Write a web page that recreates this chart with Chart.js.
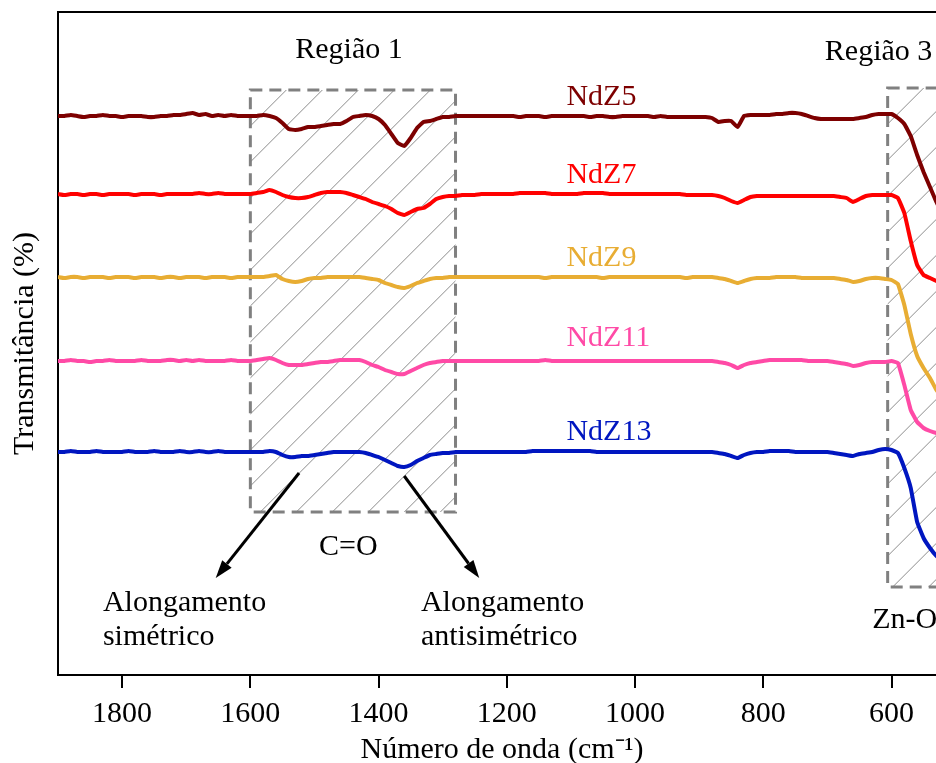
<!DOCTYPE html>
<html>
<head>
<meta charset="utf-8">
<script src="https://cdn.jsdelivr.net/npm/chart.js@4.4.1/dist/chart.umd.min.js"></script>
<style>
  html, body { margin: 0; padding: 0; background: #fff; overflow: hidden; }
  #wrap { width: 960px; height: 763px; }
</style>
</head>
<body>
<div id="wrap"><canvas id="ftirChart" width="960" height="763" style="width:960px;height:763px"></canvas></div>
<script>
// wavenumber (cm-1), shared by all spectra
const wavenumbers = [
  1900, 1890, 1880, 1870, 1860, 1850, 1840, 1830, 1820, 1810,
  1800, 1790, 1780, 1770, 1760, 1750, 1740, 1730, 1720, 1710,
  1700, 1690, 1680, 1670, 1660, 1650, 1640, 1630, 1620, 1610,
  1600, 1590, 1580, 1570, 1560, 1550, 1540, 1530, 1520, 1510,
  1500, 1490, 1480, 1470, 1460, 1450, 1440, 1430, 1420, 1410,
  1400, 1390, 1380, 1370, 1360, 1350, 1340, 1330, 1320, 1310,
  1300, 1290, 1280, 1270, 1260, 1250, 1240, 1230, 1220, 1210,
  1200, 1190, 1180, 1170, 1160, 1150, 1140, 1130, 1120, 1110,
  1100, 1090, 1080, 1070, 1060, 1050, 1040, 1030, 1020, 1010,
  1000, 990, 980, 970, 960, 950, 940, 930, 920, 910,
  900, 890, 880, 870, 860, 850, 840, 830, 820, 810,
  800, 790, 780, 770, 760, 750, 740, 730, 720, 710,
  700, 690, 680, 670, 660, 650, 640, 630, 620, 610,
  600, 590, 580, 570, 560, 550, 540, 530, 520
];

// transmittance, spectra stacked with offsets
const ndz5 = [
  55.9, 55.9, 56.0, 55.9, 55.8, 55.9, 55.9, 56.0, 55.9, 55.9,
  55.8, 55.9, 55.9, 55.9, 55.8, 55.8, 55.9, 55.9, 56.0, 56.0,
  56.1, 56.2, 56.0, 56.1, 55.9, 56.0, 55.9, 56.0, 55.9, 55.9,
  55.9, 55.9, 56.0, 55.9, 55.7, 55.2, 54.6, 54.5, 54.6, 54.8,
  54.8, 54.9, 55.0, 55.1, 55.1, 55.4, 55.8, 55.9, 56.0, 55.9,
  55.6, 55.0, 54.1, 53.2, 52.9, 53.7, 54.7, 55.3, 55.4, 55.6,
  55.8, 55.8, 55.9, 55.9, 55.9, 55.9, 55.9, 55.9, 55.9, 55.9,
  55.9, 55.9, 55.8, 55.9, 55.9, 55.9, 55.8, 55.9, 55.9, 55.9,
  55.9, 55.9, 55.9, 55.8, 55.9, 55.9, 55.8, 55.8, 55.9, 55.9,
  55.9, 55.9, 55.9, 55.8, 55.9, 55.8, 55.8, 55.8, 55.8, 55.8,
  55.8, 55.8, 55.7, 55.3, 55.4, 55.4, 54.8, 55.9, 56.0, 56.0,
  56.0, 56.0, 56.1, 56.1, 56.2, 56.2, 56.1, 55.9, 55.7, 55.6,
  55.6, 55.6, 55.6, 55.6, 55.6, 55.7, 55.8, 56.0, 56.1, 56.1,
  56.1, 55.7, 55.1, 53.9, 52.0, 50.3, 48.8, 47.3, 46.0
];
const ndz7 = [
  48.1, 48.0, 48.1, 48.1, 48.0, 48.1, 48.1, 48.0, 48.1, 48.1,
  48.1, 48.1, 48.0, 48.1, 48.1, 48.1, 48.0, 48.1, 48.1, 48.1,
  48.1, 48.1, 48.2, 48.1, 48.1, 48.2, 48.1, 48.1, 48.1, 48.1,
  48.1, 48.2, 48.3, 48.5, 48.3, 48.0, 47.8, 47.7, 47.7, 47.8,
  48.0, 48.2, 48.3, 48.3, 48.3, 48.2, 48.0, 47.8, 47.6, 47.3,
  47.1, 46.9, 46.6, 46.2, 46.0, 46.3, 46.6, 46.7, 47.1, 47.6,
  47.8, 47.9, 47.9, 48.0, 48.0, 48.0, 48.1, 48.1, 48.1, 48.1,
  48.1, 48.1, 48.2, 48.2, 48.2, 48.2, 48.2, 48.1, 48.1, 48.1,
  48.1, 48.1, 48.2, 48.2, 48.2, 48.2, 48.1, 48.1, 48.1, 48.1,
  48.1, 48.1, 48.1, 48.1, 48.1, 48.1, 48.1, 48.1, 48.0, 48.0,
  48.0, 48.0, 48.0, 47.9, 47.7, 47.4, 47.2, 47.5, 47.8, 47.9,
  47.9, 47.9, 47.9, 47.9, 47.9, 47.9, 47.9, 47.9, 47.9, 47.9,
  47.9, 47.9, 47.8, 47.7, 47.3, 47.6, 47.9, 48.0, 48.0, 48.0,
  48.0, 47.7, 46.2, 43.4, 41.0, 40.0, 39.7, 39.4, 39.1
];
const ndz9 = [
  39.8, 39.7, 39.8, 39.8, 39.7, 39.8, 39.8, 39.8, 39.7, 39.8,
  39.8, 39.8, 39.7, 39.8, 39.8, 39.8, 39.7, 39.8, 39.8, 39.7,
  39.8, 39.8, 39.8, 39.7, 39.8, 39.8, 39.8, 39.7, 39.8, 39.8,
  39.8, 39.8, 39.8, 39.9, 40.0, 39.6, 39.4, 39.3, 39.4, 39.6,
  39.7, 39.7, 39.8, 39.8, 39.8, 39.8, 39.8, 39.8, 39.7, 39.6,
  39.5, 39.2, 39.0, 38.8, 38.7, 38.9, 39.2, 39.4, 39.6, 39.7,
  39.7, 39.8, 39.8, 39.8, 39.8, 39.8, 39.8, 39.8, 39.8, 39.8,
  39.8, 39.8, 39.8, 39.8, 39.8, 39.8, 39.7, 39.8, 39.8, 39.8,
  39.8, 39.8, 39.8, 39.8, 39.8, 39.7, 39.8, 39.8, 39.8, 39.8,
  39.8, 39.8, 39.8, 39.8, 39.8, 39.8, 39.8, 39.8, 39.7, 39.8,
  39.8, 39.8, 39.8, 39.7, 39.6, 39.4, 39.2, 39.4, 39.6, 39.7,
  39.7, 39.7, 39.8, 39.8, 39.8, 39.8, 39.7, 39.7, 39.7, 39.7,
  39.7, 39.7, 39.6, 39.5, 39.3, 39.4, 39.6, 39.7, 39.7, 39.6,
  39.5, 39.1, 37.0, 34.1, 31.9, 30.7, 29.7, 28.5, 27.7
];
const ndz11 = [
  31.4, 31.4, 31.5, 31.4, 31.4, 31.3, 31.4, 31.4, 31.5, 31.4,
  31.4, 31.4, 31.4, 31.5, 31.4, 31.4, 31.4, 31.5, 31.5, 31.4,
  31.5, 31.4, 31.5, 31.4, 31.4, 31.4, 31.4, 31.5, 31.4, 31.4,
  31.4, 31.5, 31.6, 31.7, 31.5, 31.2, 31.0, 31.0, 31.0, 31.1,
  31.2, 31.3, 31.3, 31.4, 31.5, 31.5, 31.5, 31.5, 31.3, 31.0,
  30.8, 30.5, 30.3, 30.1, 30.1, 30.4, 30.7, 31.0, 31.2, 31.3,
  31.4, 31.4, 31.4, 31.4, 31.4, 31.4, 31.4, 31.4, 31.4, 31.4,
  31.4, 31.4, 31.4, 31.4, 31.4, 31.4, 31.5, 31.4, 31.4, 31.4,
  31.4, 31.4, 31.4, 31.4, 31.4, 31.4, 31.4, 31.4, 31.4, 31.4,
  31.4, 31.4, 31.4, 31.4, 31.4, 31.4, 31.4, 31.4, 31.4, 31.4,
  31.4, 31.4, 31.4, 31.3, 31.2, 31.0, 30.7, 31.0, 31.2, 31.3,
  31.4, 31.5, 31.5, 31.5, 31.5, 31.5, 31.5, 31.4, 31.4, 31.4,
  31.4, 31.3, 31.2, 31.1, 30.9, 31.0, 31.2, 31.3, 31.3, 31.3,
  31.4, 31.2, 29.0, 26.5, 25.3, 24.7, 24.4, 24.2, 24.1
];
const ndz13 = [
  22.3, 22.3, 22.4, 22.3, 22.3, 22.3, 22.4, 22.3, 22.3, 22.3,
  22.3, 22.4, 22.3, 22.3, 22.3, 22.4, 22.3, 22.3, 22.3, 22.4,
  22.3, 22.3, 22.4, 22.3, 22.3, 22.4, 22.3, 22.3, 22.3, 22.3,
  22.3, 22.3, 22.3, 22.4, 22.3, 22.0, 21.8, 21.8, 21.9, 21.9,
  22.0, 22.1, 22.2, 22.3, 22.3, 22.3, 22.3, 22.3, 22.2, 22.0,
  21.8, 21.5, 21.2, 20.9, 20.8, 21.0, 21.4, 21.7, 22.0, 22.1,
  22.2, 22.2, 22.3, 22.3, 22.3, 22.3, 22.3, 22.3, 22.3, 22.3,
  22.3, 22.3, 22.3, 22.3, 22.4, 22.4, 22.4, 22.4, 22.4, 22.4,
  22.4, 22.4, 22.4, 22.4, 22.3, 22.3, 22.3, 22.3, 22.3, 22.3,
  22.3, 22.3, 22.3, 22.3, 22.3, 22.3, 22.3, 22.3, 22.3, 22.3,
  22.3, 22.3, 22.3, 22.2, 22.1, 21.9, 21.7, 22.0, 22.2, 22.3,
  22.3, 22.4, 22.4, 22.4, 22.4, 22.3, 22.3, 22.3, 22.3, 22.3,
  22.3, 22.2, 22.1, 22.0, 21.9, 22.1, 22.2, 22.3, 22.5, 22.6,
  22.5, 22.2, 20.7, 18.7, 15.3, 13.7, 12.7, 11.9, 11.3
];

const seriesNames = ['NdZ5', 'NdZ7', 'NdZ9', 'NdZ11', 'NdZ13'];
const seriesValues = [ndz5, ndz7, ndz9, ndz11, ndz13];
const xTicks = [1800, 1600, 1400, 1200, 1000, 800, 600];

const colors = ['#7d0000', '#ff0000', '#e8ad33', '#ff4aa6', '#0016c0'];
const FONT = '"Liberation Serif", "Times New Roman", serif';

// annotation layout (data coordinates)
const labelPos = [[1107, 57.8], [1107, 50.0], [1107, 41.7], [1107, 33.7], [1107, 24.3]];
const boxes = [
  { x0: 1600, x1: 1280, y0: 58.5, y1: 16.3 },
  { x0: 606, x1: 450, y0: 58.7, y1: 8.8 }
];
const notes = [
  ['Região 1', 1530, 62.5],
  ['Região 3', 704, 62.3],
  ['C=O', 1493, 12.8],
  ['Alongamento', 1830, 7.2],
  ['simétrico', 1830, 3.8],
  ['Alongamento', 1334, 7.2],
  ['antisimétrico', 1334, 3.8],
  ['Zn-O', 630, 5.5]
];
const arrows = [
  [1524, 20.2, 1654, 9.7],
  [1360, 19.9, 1243, 9.7]
];

const annotations = {
  id: 'annotations',
  beforeDatasetsDraw(chart) {
    const { ctx, chartArea, scales: { x, y } } = chart;
    ctx.save();
    ctx.beginPath();
    ctx.rect(chartArea.left, chartArea.top, chartArea.right - chartArea.left, chartArea.bottom - chartArea.top);
    ctx.clip();
    boxes.forEach(b => {
      const l = x.getPixelForValue(b.x0), r = x.getPixelForValue(b.x1);
      const t = y.getPixelForValue(b.y0), bt = y.getPixelForValue(b.y1);
      // hatching
      ctx.save();
      ctx.beginPath();
      ctx.rect(l, t, r - l, bt - t);
      ctx.clip();
      ctx.strokeStyle = '#8c8c8c';
      ctx.lineWidth = 1;
      ctx.beginPath();
      for (let k = l - (bt - t); k < r; k += 36) {
        ctx.moveTo(k, bt);
        ctx.lineTo(k + (bt - t), t);
      }
      ctx.stroke();
      ctx.restore();
      // dashed frame
      ctx.strokeStyle = '#808080';
      ctx.lineWidth = 3;
      ctx.setLineDash([12, 7]);
      ctx.strokeRect(l, t, r - l, bt - t);
      ctx.setLineDash([]);
    });
    ctx.restore();
  },
  afterDatasetsDraw(chart) {
    const { ctx, scales: { x, y } } = chart;
    ctx.save();
    ctx.font = '30px ' + FONT;
    ctx.textBaseline = 'middle';
    ctx.textAlign = 'left';
    seriesNames.forEach((n, i) => {
      ctx.fillStyle = colors[i];
      ctx.fillText(n, x.getPixelForValue(labelPos[i][0]), y.getPixelForValue(labelPos[i][1]));
    });
    ctx.fillStyle = '#000';
    notes.forEach(([t, wx, wy]) => {
      ctx.fillText(t, x.getPixelForValue(wx), y.getPixelForValue(wy));
    });
    ctx.strokeStyle = '#000';
    ctx.lineWidth = 3;
    arrows.forEach(([ax, ay, bx, by]) => {
      const x1 = x.getPixelForValue(ax), y1 = y.getPixelForValue(ay);
      const x2 = x.getPixelForValue(bx), y2 = y.getPixelForValue(by);
      const ang = Math.atan2(y2 - y1, x2 - x1);
      const hl = 18, hw = 6;
      ctx.beginPath();
      ctx.moveTo(x1, y1);
      ctx.lineTo(x2 - hl * Math.cos(ang), y2 - hl * Math.sin(ang));
      ctx.stroke();
      ctx.beginPath();
      ctx.moveTo(x2, y2);
      ctx.lineTo(x2 - hl * Math.cos(ang) + hw * Math.sin(ang), y2 - hl * Math.sin(ang) - hw * Math.cos(ang));
      ctx.lineTo(x2 - hl * Math.cos(ang) - hw * Math.sin(ang), y2 - hl * Math.sin(ang) + hw * Math.cos(ang));
      ctx.closePath();
      ctx.fillStyle = '#000';
      ctx.fill();
    });
    ctx.restore();
  },
  afterDraw(chart) {
    const { ctx, chartArea } = chart;
    ctx.save();
    ctx.strokeStyle = '#000';
    ctx.lineWidth = 2;
    ctx.beginPath();
    ctx.moveTo(chartArea.left, chartArea.top);
    ctx.lineTo(chartArea.right, chartArea.top);
    ctx.lineTo(chartArea.right, chartArea.bottom);
    ctx.stroke();
    ctx.restore();
  }
};

const ctx = document.getElementById('ftirChart').getContext('2d');
new Chart(ctx, {
  type: 'line',
  data: {
    datasets: seriesNames.map((name, i) => ({
      label: name,
      data: wavenumbers.map((w, j) => ({ x: w, y: seriesValues[i][j] })),
      borderColor: colors[i],
      borderWidth: 4,
      pointRadius: 0,
      tension: 0.1,
      fill: false
    }))
  },
  options: {
    responsive: false,
    animation: false,
    devicePixelRatio: 1,
    layout: { padding: { top: 12, right: 14, left: 0, bottom: 0 } },
    plugins: {
      legend: { display: false },
      tooltip: { enabled: false }
    },
    scales: {
      x: {
        type: 'linear',
        reverse: true,
        min: 515,
        max: 1900,
        afterBuildTicks: s => { s.ticks = xTicks.map(v => ({ value: v })); },
        afterFit: s => { s.height = 88; },
        grid: { drawOnChartArea: false, drawTicks: true, tickLength: 13, color: '#000', lineWidth: 2 },
        border: { color: '#000', width: 2 },
        ticks: {
          color: '#000',
          font: { family: FONT, size: 30 },
          padding: 8,
          maxRotation: 0,
          autoSkip: false,
          callback: v => String(v)
        },
        title: {
          display: true,
          text: 'Número de onda (cm⁻¹)',
          color: '#000',
          font: { family: FONT, size: 30, lineHeight: 0.8 },
          padding: { top: 0, bottom: 1 }
        }
      },
      y: {
        min: 0,
        max: 66.3,
        afterFit: s => { s.width = 58; },
        ticks: { display: false },
        grid: { display: false },
        border: { color: '#000', width: 2 },
        title: {
          display: true,
          text: 'Transmitância (%)',
          color: '#000',
          font: { family: FONT, size: 30 },
          padding: { top: 7, bottom: 0 }
        }
      }
    }
  },
  plugins: [annotations]
});
</script>
</body>
</html>
